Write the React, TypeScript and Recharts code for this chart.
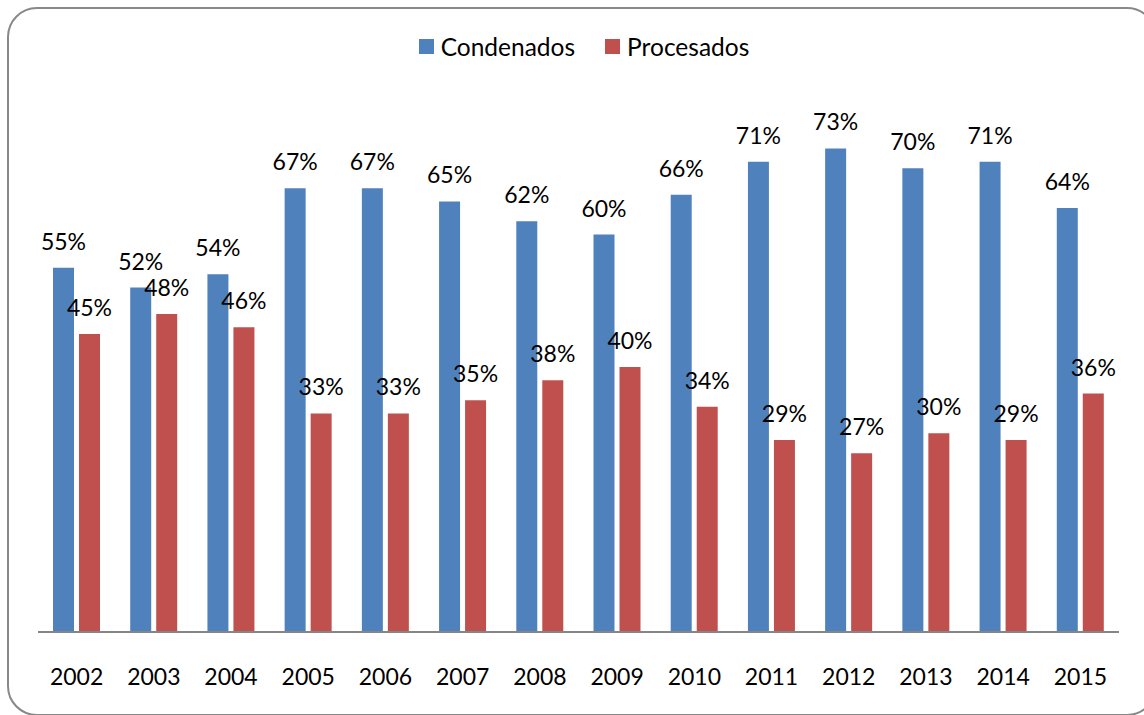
import React from "react";
import { BarChart, Bar, XAxis, YAxis, LabelList } from "recharts";

const years = ["2002", "2003", "2004", "2005", "2006", "2007", "2008", "2009", "2010", "2011", "2012", "2013", "2014", "2015"];
const condenados = [55, 52, 54, 67, 67, 65, 62, 60, 66, 71, 73, 70, 71, 64];
const procesados = [45, 48, 46, 33, 33, 35, 38, 40, 34, 29, 27, 30, 29, 36];
const seriesNames = ["Condenados", "Procesados"];
const seriesColors = ["#4F81BD", "#C0504D"];

const FONT = "Lato, 'Open Sans', sans-serif";

const data = years.map((y, i) => ({ year: y, condenados: condenados[i], procesados: procesados[i] }));

export default function App() {
  return (
    <div style={{ position: "absolute", left: 0, top: 0, width: 1144, height: 715, overflow: "hidden", background: "#fff", fontFamily: FONT }}>
      <div
        style={{
          position: "absolute",
          left: 7,
          top: 7,
          width: 1150,
          height: 709,
          border: "2.5px solid #888888",
          borderRadius: 30,
          boxSizing: "border-box",
        }}
      />
      <div style={{ position: "absolute", left: 0, top: 32, width: 1168, display: "flex", justifyContent: "center", alignItems: "center", fontSize: 24.5, color: "#000" }}>
        {seriesNames.map((n, i) => (
          <div key={n} style={{ display: "flex", alignItems: "center", marginRight: i === 0 ? 30 : 0 }}>
            <span style={{ display: "inline-block", width: 15, height: 15, background: seriesColors[i], marginRight: 7 }} />
            <span>{n}</span>
          </div>
        ))}
      </div>
      <div style={{ position: "absolute", left: 0, top: 0 }}>
        <BarChart
          width={1144}
          height={715}
          data={data}
          margin={{ top: 102, right: 25, bottom: 23, left: 38 }}
          barSize={21}
          barGap={5}
        >
          <XAxis
            dataKey="year"
            axisLine={{ stroke: "#868686", strokeWidth: 2 }}
            tickLine={false}
            height={60}
            tickMargin={31}
            tick={{ fill: "#000", fontSize: 23, fontFamily: FONT }}
          />
          <YAxis hide domain={[0, 80]} />
          <Bar dataKey="condenados" fill={seriesColors[0]} isAnimationActive={false}>
            <LabelList dataKey="condenados" position="top" offset={18} formatter={(v: any) => `${v}%`} style={{ fill: "#000", fontSize: 23, fontFamily: FONT }} />
          </Bar>
          <Bar dataKey="procesados" fill={seriesColors[1]} isAnimationActive={false}>
            <LabelList dataKey="procesados" position="top" offset={18} formatter={(v: any) => `${v}%`} style={{ fill: "#000", fontSize: 23, fontFamily: FONT }} />
          </Bar>
        </BarChart>
      </div>
    </div>
  );
}
